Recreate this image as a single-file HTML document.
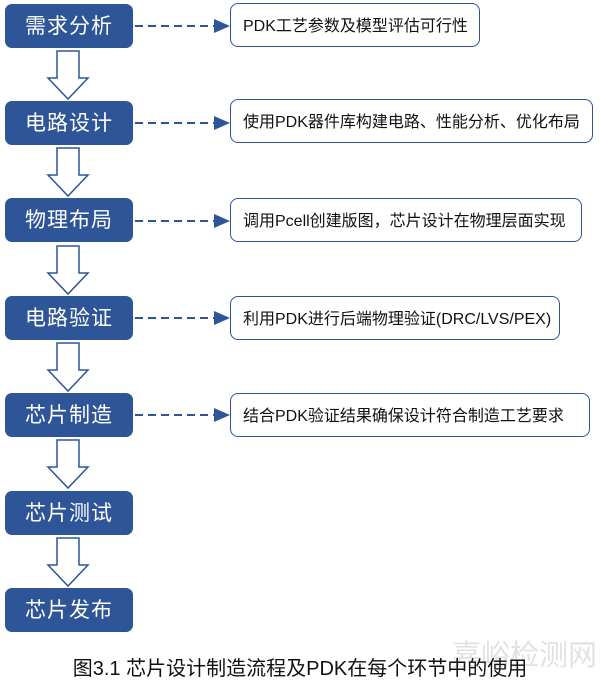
<!DOCTYPE html><html><head><meta charset="utf-8"><style>
body{margin:0;width:600px;height:690px;background:#fff;position:relative;font-family:"Liberation Sans","Noto Sans CJK SC",sans-serif;overflow:hidden}
.b{position:absolute;left:5px;width:128px;height:44px;background:#2E5597;border-radius:7px;color:#fff;font-size:21px;line-height:46px;text-align:center;letter-spacing:1px}
.r{position:absolute;left:230px;height:44px;border:1.5px solid #2E5597;border-radius:8px;box-sizing:border-box;font-size:16px;line-height:46px;padding-left:12px;color:#111}
svg{position:absolute;left:0;top:0}
.cap{position:absolute;top:652px;left:0;width:600px;text-align:center;font-size:20px;color:#111}
</style></head><body>
<svg width="600" height="690">
<defs><marker id="m" markerWidth="8" markerHeight="8" refX="7" refY="4" orient="auto"><path d="M0,0.5 L8,4 L0,7.5z" fill="#2E5597"/></marker></defs>
<g fill="none" stroke="#2E5597" stroke-width="2" stroke-dasharray="8,5" marker-end="url(#m)">
<line x1="135" y1="26" x2="228" y2="26"/><line x1="135" y1="123" x2="228" y2="123"/><line x1="135" y1="221" x2="228" y2="221"/><line x1="135" y1="318" x2="228" y2="318"/><line x1="135" y1="415" x2="228" y2="415"/>
</g>
<g fill="#fff" stroke="#2E5597" stroke-width="1.5">
<path d="M57,51 H79 V78 H88 L68,99 L48,78 H57 Z"/>
<path d="M57,148 H79 V175 H88 L68,196 L48,175 H57 Z"/>
<path d="M57,246 H79 V273 H88 L68,294 L48,273 H57 Z"/>
<path d="M57,343 H79 V370 H88 L68,391 L48,370 H57 Z"/>
<path d="M57,440 H79 V467 H88 L68,488 L48,467 H57 Z"/>
<path d="M57,538 H79 V565 H88 L68,586 L48,565 H57 Z"/>
</g></svg>
<div class="b" style="top:4px">需求分析</div>
<div class="b" style="top:101px">电路设计</div>
<div class="b" style="top:198px">物理布局</div>
<div class="b" style="top:296px">电路验证</div>
<div class="b" style="top:393px">芯片制造</div>
<div class="b" style="top:491px">芯片测试</div>
<div class="b" style="top:588px">芯片发布</div>
<div class="r" style="top:3px;width:250px">PDK工艺参数及模型评估可行性</div>
<div class="r" style="top:99px;width:363px">使用PDK器件库构建电路、性能分析、优化布局</div>
<div class="r" style="top:198px;width:352px">调用Pcell创建版图，芯片设计在物理层面实现</div>
<div class="r" style="top:296px;width:330px">利用PDK进行后端物理验证(DRC/LVS/PEX)</div>
<div class="r" style="top:393px;width:360px">结合PDK验证结果确保设计符合制造工艺要求</div>
<div style="position:absolute;left:452px;top:632px;font-size:29px;color:#e2e2e2">嘉峪检测网</div>
<div class="cap">图3.1 芯片设计制造流程及PDK在每个环节中的使用</div>
</body></html>
